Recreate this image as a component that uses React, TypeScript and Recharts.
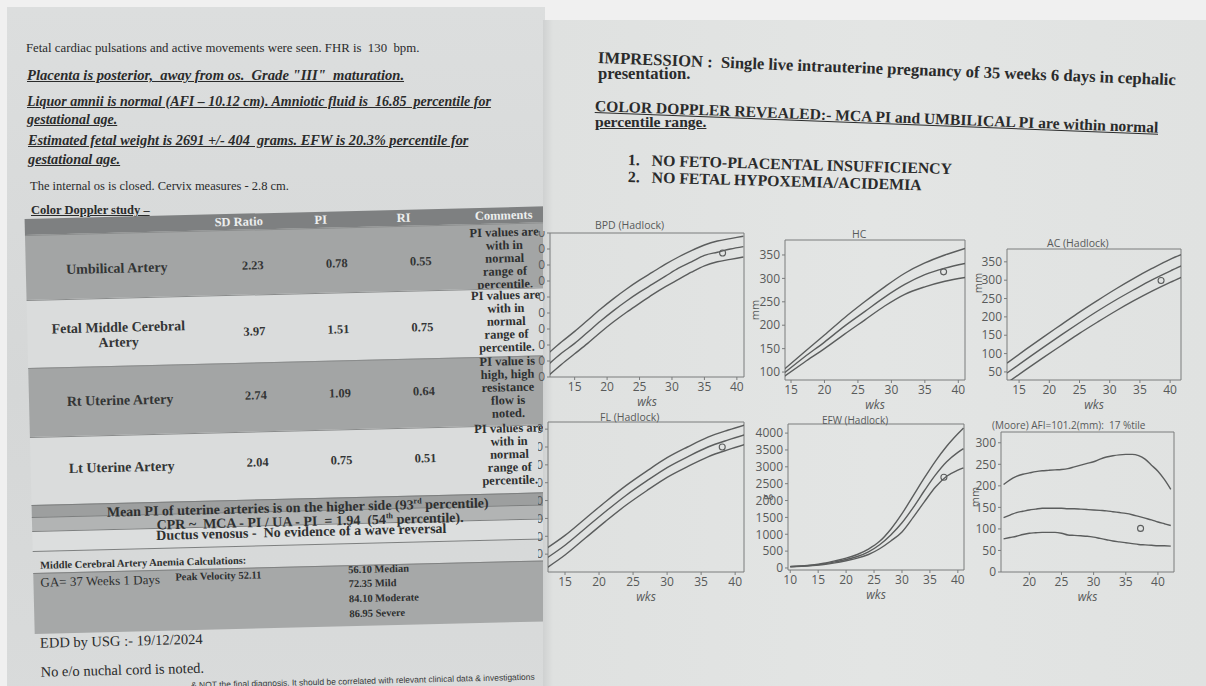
import React from 'react'
import { ComposedChart, Line, Scatter, XAxis, YAxis, ReferenceArea } from 'recharts'

// ---- growth curves (3 percentile lines + the scan point) ----
const bpdWeeks = [11, 13, 15, 17, 19, 21, 23, 25, 27, 29, 31, 33, 35, 37, 39, 41]
const bpdLow = [11, 18, 24.5, 31, 38, 44.5, 50.5, 56, 61.5, 66.5, 71, 75.5, 79.5, 82, 83.5, 85]
const bpdMid = [18, 25, 31, 38, 45, 51.5, 57.5, 63, 68, 73, 78, 82, 86, 88, 90, 91.5]
const bpdHigh = [25, 32, 38.5, 45.5, 52.5, 59, 65, 70.5, 75.5, 80.5, 85, 89, 92.5, 95, 96.5, 98]
const bpdPoint = [{ wk: 37.8, val: 87.5 }]

const hcWeeks = [14, 17, 20, 23, 26, 29, 32, 35, 38, 41]
const hcLow = [91, 121, 150, 181, 211, 241, 266, 282, 294, 302]
const hcMid = [98, 132, 164, 198, 229, 260, 287, 308, 322, 332]
const hcHigh = [106, 143, 179, 216, 250, 282, 311, 333, 350, 364]
const hcPoint = [{ wk: 37.8, val: 314 }]

const acWeeks = [13, 16, 19, 22, 25, 28, 31, 34, 37, 40, 42]
const acLow = [20, 55, 89, 122, 155, 186, 216, 244, 270, 294, 309]
const acMid = [47, 82, 117, 151, 184, 216, 246, 274, 301, 325, 340]
const acHigh = [74, 110, 145, 179, 213, 245, 276, 305, 332, 357, 371]
const acPoint = [{ wk: 38.5, val: 299 }]

const flWeeks = [12, 15, 18, 21, 24, 27, 30, 33, 36, 39, 42]
const flLow = [1.5, 9.5, 19, 28.5, 37.5, 45.5, 53, 59, 64.5, 68.5, 72]
const flMid = [7, 15, 24.5, 34, 43, 51, 58.5, 64.5, 70, 74, 77.5]
const flHigh = [12.5, 20.5, 30, 39.5, 48.5, 56.5, 64, 70, 75.5, 79.5, 83]
const flPoint = [{ wk: 38.1, val: 70 }]

const efwWeeks = [10, 12, 14, 16, 18, 20, 22, 24, 26, 28, 30, 32, 34, 36, 38, 40, 41]
const efwLow = [35, 50, 70, 100, 150, 215, 290, 400, 570, 800, 1070, 1500, 1960, 2400, 2720, 2900, 2970]
const efwMid = [40, 55, 80, 120, 180, 250, 340, 480, 690, 980, 1340, 1790, 2290, 2760, 3150, 3430, 3540]
const efwHigh = [45, 60, 90, 140, 210, 290, 400, 560, 790, 1150, 1610, 2140, 2670, 3170, 3610, 3980, 4150]
const efwPoint = [{ wk: 37.5, val: 2691 }]

const afiWeeks = [16, 17, 18, 19, 20, 21, 22, 23, 24, 25, 26, 27, 28, 29, 30, 31, 32, 33, 34, 35, 36, 37, 38, 39, 40, 41, 42]
const afiLow = [77, 80, 83, 87, 90, 91, 92, 92, 92, 90, 86, 85, 84, 83, 81, 78, 75, 72, 70, 68, 66, 64, 63, 62, 61, 61, 60]
const afiMid = [126, 132, 138, 141, 144, 146, 148, 148, 148, 148, 147, 147, 146, 145, 144, 143, 142, 140, 138, 136, 133, 129, 125, 121, 116, 112, 108]
const afiHigh = [203, 214, 222, 227, 230, 233, 235, 236, 237, 238, 240, 244, 248, 252, 256, 262, 267, 270, 272, 273, 273, 270, 262, 248, 234, 215, 192]
const afiPoint = [{ wk: 37.3, val: 101.2 }]

const wkTicks = [15, 20, 25, 30, 35, 40]
const efwWkTicks = [10, 15, 20, 25, 30, 35, 40]
const afiWkTicks = [20, 25, 30, 35, 40]
const bpdTicks = [10, 20, 30, 40, 50, 60, 70, 80, 90, 100]
const hcTicks = [100, 150, 200, 250, 300, 350]
const acTicks = [50, 100, 150, 200, 250, 300, 350]
const flTicks = [10, 20, 30, 40, 50, 60, 70, 80]
const efwTicks = [0, 500, 1000, 1500, 2000, 2500, 3000, 3500, 4000]
const afiTicks = [0, 50, 100, 150, 200, 250, 300]

// ---- doppler table ----
const vessels = [['Umbilical Artery'], ['Fetal Middle Cerebral', 'Artery'], ['Rt Uterine Artery'], ['Lt Uterine Artery']]
const sdRatio = ['2.23', '3.97', '2.74', '2.04']
const piValues = ['0.78', '1.51', '1.09', '0.75']
const riValues = ['0.55', '0.75', '0.64', '0.51']
const comments = [
  ['PI values are', 'with in', 'normal', 'range of', 'percentile.'],
  ['PI values are', 'with in', 'normal', 'range of', 'percentile.'],
  ['PI value is', 'high, high', 'resistance', 'flow is', 'noted.'],
  ['PI values are', 'with in', 'normal', 'range of', 'percentile.'],
]
const anemiaLevels = ['56.10 Median', '72.35 Mild', '84.10 Moderate', '86.95 Severe']

const serif = '"Liberation Serif", "Times New Roman", serif'
const sans = '"Open Sans", "DejaVu Sans", sans-serif'
const lineCol = '#5b5d5d'
const axisCol = '#7a7c7c'
const tickFont = { fontSize: 12, fill: '#585a5a', fontFamily: sans }

const Txt = ({ x, y, size = 12, bold = false, italic = false, underline = false, color = '#2a2b2b', center = false, font = serif, rotate = 0, children }: any) => {
  const lh = Math.round(size * 1.2)
  return (
    <div
      style={{
        position: 'absolute', left: x, top: y - lh / 2, fontSize: size, lineHeight: lh + 'px', fontFamily: font,
        fontWeight: bold ? 700 : 400, fontStyle: italic ? 'italic' : 'normal', textDecoration: underline ? 'underline' : 'none',
        color, whiteSpace: 'pre',
        transform: (center ? 'translateX(-50%) ' : '') + (rotate ? `rotate(${rotate}deg)` : ''),
        transformOrigin: 'left center',
      }}
    >
      {children}
    </div>
  )
}

type Pt = { wk: number; val: number }
interface GrowthChartProps {
  weeks: number[]; low: number[]; mid: number[]; high: number[]; point: Pt[]
  xDomain: [number, number]; yDomain: [number, number]; xTicks: number[]; yTicks: number[]
  left: number; top: number; plotW: number; plotH: number; yAxisW: number
}

const GrowthChart = ({ weeks, low, mid, high, point, xDomain, yDomain, xTicks, yTicks, left, top, plotW, plotH, yAxisW }: GrowthChartProps) => {
  const data = weeks.map((wk, i) => ({ wk, low: low[i], mid: mid[i], high: high[i] }))
  const mt = 2
  const mr = 2
  const xh = 29
  return (
    <div style={{ position: 'absolute', left: left - yAxisW, top: top - mt }}>
      <ComposedChart width={yAxisW + plotW + mr} height={mt + plotH + xh} data={data} margin={{ top: mt, right: mr, bottom: 0, left: 0 }}>
        <XAxis
          dataKey="wk" type="number" domain={xDomain} ticks={xTicks} allowDataOverflow interval={0} height={xh}
          axisLine={false} tickSize={3} tickLine={{ stroke: axisCol }} tick={tickFont}
          label={{ value: 'wks', position: 'insideBottom', offset: 0, fontSize: 12, fill: '#585a5a', fontFamily: sans, fontStyle: 'italic' }}
        />
        <YAxis
          type="number" domain={yDomain} ticks={yTicks} allowDataOverflow interval={0} width={yAxisW}
          axisLine={false} tickSize={3} tickLine={{ stroke: axisCol }} tick={tickFont}
        />
        <ReferenceArea x1={xDomain[0]} x2={xDomain[1]} y1={yDomain[0]} y2={yDomain[1]} fill="none" fillOpacity={0} stroke={axisCol} strokeWidth={1} />
        <Line type="monotone" dataKey="high" stroke={lineCol} strokeWidth={1.4} dot={false} activeDot={false} isAnimationActive={false} />
        <Line type="monotone" dataKey="mid" stroke={lineCol} strokeWidth={1.4} dot={false} activeDot={false} isAnimationActive={false} />
        <Line type="monotone" dataKey="low" stroke={lineCol} strokeWidth={1.4} dot={false} activeDot={false} isAnimationActive={false} />
        <Scatter
          data={point} dataKey="val" isAnimationActive={false}
          shape={(p: any) => <circle cx={p.cx} cy={p.cy} r={3} fill="none" stroke={lineCol} strokeWidth={1.1} />}
        />
      </ComposedChart>
    </div>
  )
}

const DARK = '#a3a5a5'
const LIGHT = '#dadcdc'
const INK = '#2e3030'
const rowTops = [235, 300, 368, 437]
const rowHeights = [65, 68, 69, 68]
const labelY = [270, 336.5, 402, 469.5]
const valueY = [271, 337, 401, 468]
const commentY = [244, 307, 373, 440]

const LeftPage = () => (
  <div style={{ position: 'absolute', left: 0, top: 0, width: 545, height: 686, overflow: 'hidden' }}>
    <div style={{ position: 'absolute', left: 7, top: 7, width: 560, height: 700, background: 'linear-gradient(180deg, #dcdede 0%, #d5d7d7 55%, #d9dbdb 100%)' }} />
    <Txt x={26} y={48} size={12.8}>Fetal cardiac pulsations and active movements were seen. FHR is  130  bpm.</Txt>
    <Txt x={27} y={75} size={14.6} bold italic underline>Placenta is posterior,  away from os.  Grade "III"  maturation.</Txt>
    <Txt x={27} y={101} size={14} bold italic underline>Liquor amnii is normal (AFI – 10.12 cm). Amniotic fluid is  16.85  percentile for</Txt>
    <Txt x={27} y={119} size={14} bold italic underline>gestational age.</Txt>
    <Txt x={28} y={140} size={14.3} bold italic underline>Estimated fetal weight is 2691 +/- 404  grams. EFW is 20.3% percentile for</Txt>
    <Txt x={28} y={159} size={14.3} bold italic underline>gestational age.</Txt>
    <Txt x={30} y={186} size={12.5}>The internal os is closed. Cervix measures - 2.8 cm.</Txt>
    <Txt x={31} y={210} size={12.5} bold underline>Color Doppler study –</Txt>

    <div style={{ position: 'absolute', left: 0, top: 0, width: 560, height: 700, transform: 'rotate(-1.4deg)', transformOrigin: '27px 400px' }}>
      <div style={{ position: 'absolute', left: 29, top: 219, width: 540, height: 16, background: '#7e8081' }} />
      <Txt x={243} y={227} size={12.5} bold color="#eceeee" center>SD Ratio</Txt>
      <Txt x={325} y={227} size={12.5} bold color="#eceeee" center>PI</Txt>
      <Txt x={408} y={227} size={12.5} bold color="#eceeee" center>RI</Txt>
      <Txt x={508} y={227} size={12.5} bold color="#eceeee" center>Comments</Txt>

      {vessels.map((lines, i) => (
        <React.Fragment key={i}>
          <div style={{ position: 'absolute', left: 29, top: rowTops[i], width: 540, height: rowHeights[i], background: i % 2 === 0 ? DARK : LIGHT, borderTop: '1px solid #8a8c8c', boxSizing: 'border-box' }} />
          {lines.map((line, j) => (
            <Txt key={j} x={120} y={labelY[i] + (j - (lines.length - 1) / 2) * 15} size={14} bold center color="#333535">{line}</Txt>
          ))}
          <Txt x={256} y={valueY[i]} size={12.5} bold center color="#333535">{sdRatio[i]}</Txt>
          <Txt x={340} y={valueY[i]} size={12.5} bold center color="#333535">{piValues[i]}</Txt>
          <Txt x={424} y={valueY[i]} size={12.5} bold center color="#333535">{riValues[i]}</Txt>
          {comments[i].map((c, j) => (
            <Txt key={'c' + j} x={508} y={commentY[i] + j * 13} size={12.5} bold center color={INK}>{c}</Txt>
          ))}
        </React.Fragment>
      ))}

      <div style={{ position: 'absolute', left: 29, top: 505, width: 540, height: 12, background: '#9d9f9f', borderTop: '1px solid #7d7f7f' }} />
      <div style={{ position: 'absolute', left: 29, top: 517, width: 540, height: 14, background: '#b2b4b4', borderTop: '1px solid #7d7f7f' }} />
      <div style={{ position: 'absolute', left: 29, top: 531, width: 540, height: 19, background: '#dcdede', borderTop: '1px solid #7d7f7f', borderBottom: '1px solid #7d7f7f' }} />
      <Txt x={295} y={510} size={14} bold center color={INK}>
        Mean PI of uterine arteries is on the higher side (93<sup style={{ fontSize: 8 }}>rd</sup> percentile)
      </Txt>
      <Txt x={307} y={524} size={14} bold center color={INK}>
        CPR ~  MCA - PI / UA - PI  = 1.94  (54<sup style={{ fontSize: 8 }}>th</sup> percentile).
      </Txt>
      <Txt x={298} y={538.5} size={14} bold center color={INK}>Ductus venosus -  No evidence of a wave reversal</Txt>

      <Txt x={36} y={565} size={10.5} bold color={INK}>Middle Cerebral Artery Anemia Calculations:</Txt>
      <div style={{ position: 'absolute', left: 29, top: 573, width: 540, height: 60, background: '#a6a8a8', borderTop: '1px solid #808282' }} />
      <Txt x={36} y={583} size={13} color={INK}>GA= 37 Weeks 1 Days</Txt>
      <Txt x={171} y={580} size={10.5} bold color={INK}>Peak Velocity 52.11</Txt>
      {anemiaLevels.map((a, i) => (
        <Txt key={a} x={344} y={577 + i * 14.7} size={10.5} bold color={INK}>{a}</Txt>
      ))}
      <Txt x={34} y={643} size={14.5} color="#2a2b2b">EDD by USG :- 19/12/2024</Txt>
      <Txt x={34} y={672} size={14.5} color="#2a2b2b">No e/o nuchal cord is noted.</Txt>
      <Txt x={184} y={689} size={8.5} font='"Liberation Sans", Arial, sans-serif' color="#3a3b3b">
        &amp; NOT the final diagnosis. It should be correlated with relevant clinical data &amp; investigations
      </Txt>
    </div>
  </div>
)

const RightPage = () => (
  <div style={{ position: 'absolute', left: 0, top: 0, width: 1206, height: 686, clipPath: 'inset(0px 0px 0px 538px)' }}>
    <div style={{ position: 'absolute', left: 543, top: 20, width: 663, height: 666, background: 'linear-gradient(90deg, #cfd1d1 0px, #dfe1e0 10px, #e3e5e4 50%, #e0e2e1 100%)' }} />
    <Txt x={598} y={58} size={16.6} bold rotate={2.2}>IMPRESSION :  Single live intrauterine pregnancy of 35 weeks 6 days in cephalic</Txt>
    <Txt x={598} y={74} size={16.6} bold>presentation.</Txt>
    <Txt x={595} y={105} size={15.6} bold underline rotate={2.2}>COLOR DOPPLER REVEALED:- MCA PI and UMBILICAL PI are within normal</Txt>
    <Txt x={595} y={121} size={15.6} bold underline>percentile range.</Txt>
    <Txt x={628} y={159} size={15.8} bold rotate={1.6}>1.   NO FETO-PLACENTAL INSUFFICIENCY</Txt>
    <Txt x={628} y={176} size={15.8} bold rotate={1.6}>2.   NO FETAL HYPOXEMIA/ACIDEMIA</Txt>

    <GrowthChart weeks={bpdWeeks} low={bpdLow} mid={bpdMid} high={bpdHigh} point={bpdPoint}
      xDomain={[11.2, 41.1]} yDomain={[10, 100]} xTicks={wkTicks} yTicks={bpdTicks}
      left={550} top={233} plotW={194} plotH={144} yAxisW={30} />
    <GrowthChart weeks={hcWeeks} low={hcLow} mid={hcMid} high={hcHigh} point={hcPoint}
      xDomain={[14.1, 41]} yDomain={[83, 382]} xTicks={wkTicks} yTicks={hcTicks}
      left={785} top={240} plotW={180} plotH={140} yAxisW={30} />
    <GrowthChart weeks={acWeeks} low={acLow} mid={acMid} high={acHigh} point={acPoint}
      xDomain={[13, 41.8]} yDomain={[28, 385]} xTicks={wkTicks} yTicks={acTicks}
      left={1007} top={249} plotW={174} plotH={131} yAxisW={30} />
    <GrowthChart weeks={flWeeks} low={flLow} mid={flMid} high={flHigh} point={flPoint}
      xDomain={[12.5, 41.3]} yDomain={[0, 84]} xTicks={wkTicks} yTicks={flTicks}
      left={548} top={422} plotW={196} plotH={150} yAxisW={30} />
    <GrowthChart weeks={efwWeeks} low={efwLow} mid={efwMid} high={efwHigh} point={efwPoint}
      xDomain={[9.6, 41.1]} yDomain={[-60, 4270]} xTicks={efwWkTicks} yTicks={efwTicks}
      left={788} top={424} plotW={176} plotH={146} yAxisW={34} />
    <GrowthChart weeks={afiWeeks} low={afiLow} mid={afiMid} high={afiHigh} point={afiPoint}
      xDomain={[15.6, 42.5]} yDomain={[0, 325]} xTicks={afiWkTicks} yTicks={afiTicks}
      left={1001} top={432} plotW={173} plotH={140} yAxisW={30} />

    <Txt x={595} y={225} size={10.5} font={sans} color="#585a5a">BPD (Hadlock)</Txt>
    <Txt x={852} y={234} size={10.5} font={sans} color="#585a5a">HC</Txt>
    <Txt x={1047} y={243} size={10.5} font={sans} color="#585a5a">AC (Hadlock)</Txt>
    <Txt x={600} y={417} size={10.5} font={sans} color="#585a5a">FL (Hadlock)</Txt>
    <Txt x={822} y={420} size={10} font={sans} color="#585a5a">EFW (Hadlock)</Txt>
    <Txt x={992} y={425} size={10} font={sans} color="#585a5a">(Moore) AFI=101.2(mm):  17 %tile</Txt>

    {[
      { t: 'mm', x: 755, y: 310 },
      { t: 'mm', x: 978, y: 283 },
      { t: 'g', x: 766, y: 497 },
      { t: 'mm', x: 975, y: 497 },
    ].map((l) => (
      <div key={l.x + '-' + l.y} style={{ position: 'absolute', left: l.x - 20, top: l.y - 7, width: 40, height: 14, lineHeight: '14px', textAlign: 'center', fontSize: 11, fontFamily: sans, color: '#585a5a', transform: 'rotate(-90deg)' }}>
        {l.t}
      </div>
    ))}
  </div>
)

export default function App() {
  return (
    <div style={{ position: 'absolute', left: 0, top: 0, width: 1206, height: 686, overflow: 'hidden', background: '#f0f0f0' }}>
      <LeftPage />
      <RightPage />
    </div>
  )
}
